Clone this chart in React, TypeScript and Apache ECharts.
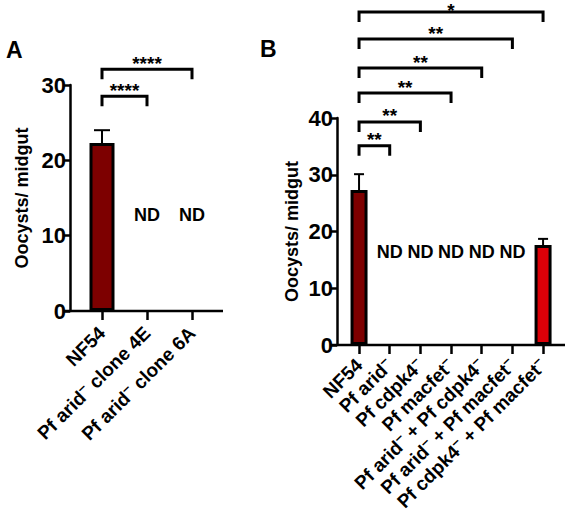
import React, { useEffect, useRef } from "react";
import * as echarts from "echarts";

const FONT = 'Arial, "Liberation Sans", Helvetica, sans-serif';

// Panel A
const catsA = ["NF54", "Pf arid^ clone 4E", "Pf arid^ clone 6A"];
const meanA: (number | null)[] = [22.3, null, null];
const errA: (number | null)[] = [1.7, null, null];
const colorsA = ["#7d0000", "#7d0000", "#7d0000"];
const ndA = ["", "ND", "ND"];
const ndLevelA = 12.7;
const yTicksA = { min: 0, max: 30, interval: 10 };
const bracketsA: [number, number, number, string][] = [
  [0, 1, 28.5, "****"],
  [0, 2, 32.1, "****"],
];

// Panel B
const catsB = [
  "NF54",
  "Pf arid^",
  "Pf cdpk4^",
  "Pf macfet^",
  "Pf arid^ + Pf cdpk4^",
  "Pf arid^ + Pf macfet^",
  "Pf cdpk4^ + Pf macfet^",
];
const meanB: (number | null)[] = [27.3, null, null, null, null, null, 17.6];
const errB: (number | null)[] = [2.8, null, null, null, null, null, 1.1];
const colorsB = ["#7d0000", "", "", "", "", "", "#dc0008"];
const ndB = ["", "ND", "ND", "ND", "ND", "ND", ""];
const ndLevelB = 16.4;
const yTicksB = { min: 0, max: 40, interval: 10 };
const bracketsB: [number, number, number, string][] = [
  [0, 1, 35.1, "**"],
  [0, 2, 39.3, "**"],
  [0, 3, 44.4, "**"],
  [0, 4, 48.8, "**"],
  [0, 5, 53.9, "**"],
  [0, 6, 58.7, "*"],
];

const YNAME = "Oocysts/ midgut";

function fmtLabel(v: string) {
  return v.split("^").join("{s|–}");
}

function makeAxes(idx: number, cats: string[], ticks: any, offset: number, nameGap: number, labelMargin: number) {
  const xAxis = {
    type: "category",
    gridIndex: idx,
    data: cats,
    axisLine: { show: false },
    axisTick: { show: true, alignWithLabel: true, length: 9, lineStyle: { color: "#000", width: 2.5 } },
    axisLabel: {
      rotate: 45,
      interval: 0,
      margin: labelMargin,
      color: "#000",
      fontFamily: FONT,
      fontWeight: "bold",
      fontSize: 19,
      formatter: fmtLabel,
      rich: {
        s: { fontSize: 14, fontWeight: "bold", fontFamily: FONT, color: "#000", padding: [0, 0, 12, 0] },
      },
    },
  };
  const yAxis = {
    type: "value",
    gridIndex: idx,
    min: ticks.min,
    max: ticks.max,
    interval: ticks.interval,
    offset,
    splitLine: { show: false },
    axisLine: { show: true, lineStyle: { color: "#000", width: 2.5 } },
    axisTick: { show: true, length: 7, lineStyle: { color: "#000", width: 2.5 } },
    axisLabel: { color: "#000", fontFamily: FONT, fontWeight: "bold", fontSize: 22, margin: 4 },
    name: YNAME,
    nameLocation: "middle",
    nameRotate: 90,
    nameGap,
    nameTextStyle: { color: "#000", fontFamily: FONT, fontWeight: "bold", fontSize: 18 },
  };
  return { xAxis, yAxis };
}

function barSeries(idx: number, mean: (number | null)[], colors: string[], barWidth: number) {
  return {
    type: "bar",
    xAxisIndex: idx,
    yAxisIndex: idx,
    barWidth,
    data: mean.map((v, i) => ({ value: v, itemStyle: { color: colors[i] || "#000" } })),
    itemStyle: { borderColor: "#000", borderWidth: 3 },
    z: 2,
  };
}

function errSeries(idx: number, mean: (number | null)[], err: (number | null)[], capHalf: number) {
  const data: number[][] = [];
  mean.forEach((m, i) => {
    if (m != null && err[i] != null) data.push([i, m, err[i] as number]);
  });
  return {
    type: "custom",
    xAxisIndex: idx,
    yAxisIndex: idx,
    clip: false,
    z: 5,
    data,
    renderItem: (params: any, api: any) => {
      const x = api.value(0);
      const m = api.value(1);
      const e = api.value(2);
      const top = api.coord([x, m + e]);
      const base = api.coord([x, m]);
      return {
        type: "group",
        children: [
          { type: "line", shape: { x1: top[0], y1: base[1], x2: top[0], y2: top[1] }, style: { stroke: "#000", lineWidth: 2 } },
          { type: "line", shape: { x1: top[0] - capHalf, y1: top[1], x2: top[0] + capHalf, y2: top[1] }, style: { stroke: "#000", lineWidth: 2 } },
        ],
      };
    },
  };
}

function ndSeries(idx: number, nd: string[], level: number) {
  const data: number[][] = [];
  nd.forEach((t, i) => {
    if (t) data.push([i, level]);
  });
  return {
    type: "custom",
    xAxisIndex: idx,
    yAxisIndex: idx,
    clip: false,
    z: 5,
    data,
    renderItem: (params: any, api: any) => {
      const p = api.coord([api.value(0), api.value(1)]);
      return {
        type: "text",
        x: p[0],
        y: p[1],
        style: {
          text: "ND",
          fill: "#000",
          font: `bold 18px ${FONT}`,
          align: "center",
          verticalAlign: "middle",
        },
      };
    },
  };
}

function bracketSeries(idx: number, brackets: [number, number, number, string][]) {
  return {
    type: "custom",
    xAxisIndex: idx,
    yAxisIndex: idx,
    clip: false,
    z: 5,
    data: brackets.map((b) => [b[0], b[1], b[2]]),
    encode: { x: [0, 1], y: 2 },
    renderItem: (params: any, api: any) => {
      const p1 = api.coord([api.value(0), api.value(2)]);
      const p2 = api.coord([api.value(1), api.value(2)]);
      const drop = 10;
      const txt = brackets[params.dataIndex][3];
      return {
        type: "group",
        children: [
          {
            type: "polyline",
            shape: {
              points: [
                [p1[0], p1[1] + drop],
                [p1[0], p1[1]],
                [p2[0], p2[1]],
                [p2[0], p2[1] + drop],
              ],
            },
            style: { stroke: "#000", lineWidth: 3, fill: null },
          },
          {
            type: "text",
            x: (p1[0] + p2[0]) / 2,
            y: Math.max(p1[1] - 6, 10),
            style: {
              text: txt,
              fill: "#000",
              font: `bold 19px ${FONT}`,
              align: "center",
              verticalAlign: "middle",
            },
          },
        ],
      };
    },
  };
}

export default function App() {
  const ref = useRef<HTMLDivElement>(null);
  useEffect(() => {
    if (!ref.current) return;
    const chart = echarts.init(ref.current, undefined, { renderer: "svg" });
    const a = makeAxes(0, catsA, yTicksA, 9.5, 39, 19);
    const b = makeAxes(1, catsB, yTicksB, 6.7, 36, 17);
    chart.setOption({
      animation: false,
      backgroundColor: "#fff",
      title: [
        { text: "A", left: 1, top: 33, textStyle: { fontFamily: FONT, fontWeight: "bold", fontSize: 23, color: "#000" } },
        { text: "B", left: 255, top: 32, textStyle: { fontFamily: FONT, fontWeight: "bold", fontSize: 23, color: "#000" } },
      ],
      grid: [
        { left: 79.5, top: 85, width: 135, height: 226 },
        { left: 343.7, top: 118, width: 214.7, height: 227 },
      ],
      xAxis: [a.xAxis, b.xAxis],
      yAxis: [a.yAxis, b.yAxis],
      graphic: [
        { type: "line", shape: { x1: 63, y1: 311, x2: 223, y2: 311 }, style: { stroke: "#000", lineWidth: 2.5 }, z: 10 },
        { type: "line", shape: { x1: 330, y1: 345, x2: 565, y2: 345 }, style: { stroke: "#000", lineWidth: 2.5 }, z: 10 },
      ],
      series: [
        barSeries(0, meanA, colorsA, 25),
        errSeries(0, meanA, errA, 8),
        ndSeries(0, ndA, ndLevelA),
        bracketSeries(0, bracketsA),
        barSeries(1, meanB, colorsB, 17),
        errSeries(1, meanB, errB, 5),
        ndSeries(1, ndB, ndLevelB),
        bracketSeries(1, bracketsB),
      ],
    });
    return () => chart.dispose();
  }, []);
  return <div ref={ref} style={{ position: "absolute", left: 0, top: 0, width: 566, height: 517 }} />;
}
